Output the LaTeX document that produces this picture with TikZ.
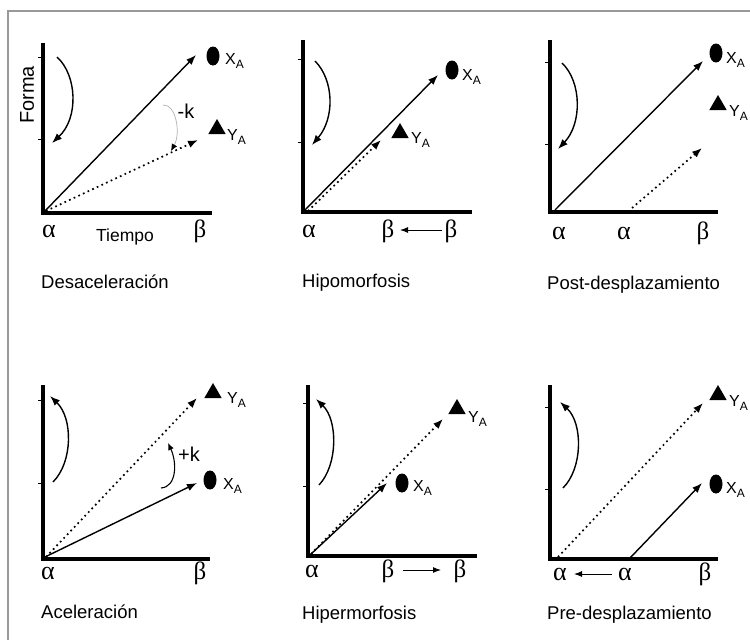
\documentclass[tikz,border=0pt]{standalone}
\usepackage{fontspec}
\setmainfont{Liberation Sans}
\newfontfamily\grkfont{Liberation Serif}
\usetikzlibrary{arrows.meta,shapes.geometric}
\newcommand{\galpha}{{\grkfont\fontsize{26}{26}\selectfont α}}
\newcommand{\gbeta}{{\grkfont\fontsize{25}{25}\selectfont β}}
\newcommand{\mklab}[1]{{\fontsize{16}{16}\selectfont #1\raisebox{-4.5pt}{\fontsize{12}{12}\selectfont A}}}
\begin{document}
\begin{tikzpicture}[x=1pt,y=-1pt,
  axisline/.style={line width=3.4pt,line join=miter},
  tickline/.style={line width=1pt},
  arr/.style={line width=1.4pt,-{Latex[length=10pt,width=7.5pt]}},
  dotarr/.style={line width=1.7pt,dash pattern=on 1.7pt off 3.4pt,-{Latex[length=10pt,width=7.5pt]}},
  grayarr/.style={line width=0.7pt,draw=gray!60,-{Latex[length=7pt,width=6pt,black]}},
  smallarr/.style={line width=1pt,-{Latex[length=8pt,width=6pt]}},
  dotmark/.style={ellipse,fill=black,minimum width=13pt,minimum height=19pt,inner sep=0pt},
  trimark/.style={regular polygon,regular polygon sides=3,fill=black,minimum size=20pt,inner sep=0pt},
  lab/.style={anchor=west,inner sep=0pt},
  greek/.style={anchor=base,inner sep=0pt},
  caption/.style={anchor=base west,inner sep=0pt,font=\fontsize{18.5}{18.5}\selectfont},
  axname/.style={inner sep=0pt,font=\fontsize{17.5}{17.5}\selectfont},
  klab/.style={inner sep=0pt,font=\fontsize{20}{20}\selectfont}]
\useasboundingbox (0,0) rectangle (750,640);
\fill[white] (0,0) rectangle (750,640);
\draw[gray!80,line width=1.2pt] (8,640) -- (8,11) -- (750,11);

% ---------- Panel 1: Desaceleracion ----------
\coordinate (o1) at (43,213);
\draw[axisline] (43,43) -- (o1) -- (212,213);
\draw[tickline] (38,57) -- (43,57) (38,139) -- (43,139);
\node[dotmark] (x1) at (213,56) {};
\node[lab] (x1l) at (225,61) {\mklab{X}};
\node[trimark] (y1) at (217,129) {};
\node[lab] (y1l) at (227,137) {\mklab{Y}};
\coordinate (s1a) at (45,211); \coordinate (s1b) at (196,55);
\coordinate (d1a) at (46,211); \coordinate (d1b) at (198,140);
\draw[arr] (s1a) -- (s1b);
\draw[dotarr] (d1a) -- (d1b);
\coordinate (g1a) at (163,105); \coordinate (g1b) at (171,151);
\draw[grayarr] (g1a) .. controls (176,104) and (181,133) .. (g1b);
\node[klab] (k1) at (186,111) {-k};
\coordinate (c1a) at (57,57); \coordinate (c1b) at (52,143);
\draw[arr] (c1a) .. controls (77,75) and (79,118) .. (c1b);
\node[axname,rotate=90,font=\fontsize{20}{20}\selectfont] (forma) at (27,95) {Forma};
\node[greek] (a1) at (49,237) {\galpha};
\node[axname] (tiempo) at (125,237) {Tiempo};
\node[greek] (b1) at (200,237) {\gbeta};
\node[caption] (cap1) at (41,288) {Desaceleración};

% ---------- Panel 2: Hipomorfosis ----------
\coordinate (o2) at (303,212);
\draw[axisline] (303,40) -- (o2) -- (472,212);
\draw[tickline] (298,59) -- (303,59) (298,142) -- (303,142);
\node[dotmark] (x2) at (452,70) {};
\node[lab] (x2l) at (462,77) {\mklab{X}};
\node[trimark] (y2) at (400,133) {};
\node[lab] (y2l) at (411,140) {\mklab{Y}};
\coordinate (s2a) at (305,210); \coordinate (s2b) at (438,75);
\coordinate (d2a) at (308,211); \coordinate (d2b) at (381,140);
\draw[arr] (s2a) -- (s2b);
\draw[dotarr] (d2a) -- (d2b);
\coordinate (c2a) at (315,61); \coordinate (c2b) at (312,145);
\draw[arr] (c2a) .. controls (334,80) and (335,118) .. (c2b);
\node[greek] (a2) at (309,237) {\galpha};
\node[greek] (b2a) at (388,237) {\gbeta};
\node[greek] (b2b) at (451,237) {\gbeta};
\coordinate (h2a) at (442,230); \coordinate (h2b) at (400,230);
\draw[smallarr] (h2a) -- (h2b);
\node[caption] (cap2) at (302,287) {Hipomorfosis};

% ---------- Panel 3: Post-desplazamiento ----------
\coordinate (o3) at (550,212);
\draw[axisline] (550,40) -- (o3) -- (718,212);
\draw[tickline] (545,62) -- (550,62) (545,144) -- (550,144);
\node[dotmark] (x3) at (716,53) {};
\node[lab] (x3l) at (726,60) {\mklab{X}};
\node[trimark] (y3) at (718,105) {};
\node[lab] (y3l) at (729,113) {\mklab{Y}};
\coordinate (s3a) at (555,210); \coordinate (s3b) at (703,61);
\coordinate (d3a) at (632,208); \coordinate (d3b) at (702,148);
\draw[arr] (s3a) -- (s3b);
\draw[dotarr] (d3a) -- (d3b);
\coordinate (c3a) at (562,63); \coordinate (c3b) at (558,149);
\draw[arr] (c3a) .. controls (582,82) and (582,124) .. (c3b);
\node[greek] (a3a) at (559,239) {\galpha};
\node[greek] (a3b) at (624,239) {\galpha};
\node[greek] (b3) at (703,239) {\gbeta};
\node[caption] (cap3) at (547,289) {Post-desplazamiento};

% ---------- Panel 4: Aceleracion ----------
\coordinate (o4) at (43,559);
\draw[axisline] (43,385) -- (o4) -- (210,559);
\draw[tickline] (38,400) -- (43,400) (38,483) -- (43,483);
\node[trimark] (y4) at (213,393) {};
\node[lab] (y4l) at (227,400) {\mklab{Y}};
\node[dotmark] (x4) at (210,480) {};
\node[lab] (x4l) at (223,486) {\mklab{X}};
\coordinate (d4a) at (46,557); \coordinate (d4b) at (197,398);
\coordinate (s4a) at (45,557); \coordinate (s4b) at (197,483);
\draw[dotarr] (d4a) -- (d4b);
\draw[arr] (s4a) -- (s4b);
\coordinate (p4a) at (161,488); \coordinate (p4b) at (168,443);
\draw[line width=1.1pt,-{Latex[length=7pt,width=6pt]}] (p4a) .. controls (177,487) and (177,462) .. (p4b);
\node[klab] (k4) at (189,454) {+k};
\coordinate (c4a) at (53,482); \coordinate (c4b) at (50,396);
\draw[arr] (c4a) .. controls (73,462) and (73,418) .. (c4b);
\node[greek] (a4) at (48,579) {\galpha};
\node[greek] (b4) at (200,579) {\gbeta};
\node[caption] (cap4) at (41,618) {Aceleración};

% ---------- Panel 5: Hipermorfosis ----------
\coordinate (o5) at (308,556);
\draw[axisline] (308,385) -- (o5) -- (477,556);
\draw[tickline] (303,403) -- (308,403) (303,486) -- (308,486);
\node[trimark] (y5) at (457,409) {};
\node[lab] (y5l) at (468,419) {\mklab{Y}};
\node[dotmark] (x5) at (402,483) {};
\node[lab] (x5l) at (413,488) {\mklab{X}};
\coordinate (d5a) at (311,554); \coordinate (d5b) at (443,419);
\coordinate (s5a) at (310,555); \coordinate (s5b) at (387,483);
\draw[dotarr] (d5a) -- (d5b);
\draw[arr] (s5a) -- (s5b);
\coordinate (c5a) at (319,485); \coordinate (c5b) at (316,399);
\draw[arr] (c5a) .. controls (338,465) and (338,420) .. (c5b);
\node[greek] (a5) at (312,577) {\galpha};
\node[greek] (b5a) at (388,577) {\gbeta};
\node[greek] (b5b) at (460,577) {\gbeta};
\coordinate (h5a) at (403,570); \coordinate (h5b) at (441,570);
\draw[smallarr] (h5a) -- (h5b);
\node[caption] (cap5) at (302,619) {Hipermorfosis};

% ---------- Panel 6: Pre-desplazamiento ----------
\coordinate (o6) at (550,559);
\draw[axisline] (550,385) -- (o6) -- (718,559);
\draw[tickline] (545,407) -- (550,407) (545,489) -- (550,489);
\node[trimark] (y6) at (718,395) {};
\node[lab] (y6l) at (729,403) {\mklab{Y}};
\node[dotmark] (x6) at (716,484) {};
\node[lab] (x6l) at (726,490) {\mklab{X}};
\coordinate (d6a) at (558,557); \coordinate (d6b) at (703,403);
\coordinate (s6a) at (630,558); \coordinate (s6b) at (702,483);
\draw[dotarr] (d6a) -- (d6b);
\draw[arr] (s6a) -- (s6b);
\coordinate (c6a) at (563,488); \coordinate (c6b) at (560,402);
\draw[arr] (c6a) .. controls (583,468) and (583,423) .. (c6b);
\node[greek] (a6a) at (560,580) {\galpha};
\node[greek] (a6b) at (625,580) {\galpha};
\node[greek] (b6) at (705,580) {\gbeta};
\coordinate (h6a) at (612,574); \coordinate (h6b) at (574,574);
\draw[smallarr] (h6a) -- (h6b);
\node[caption] (cap6) at (547,619) {Pre-desplazamiento};
\end{tikzpicture}
\end{document}
